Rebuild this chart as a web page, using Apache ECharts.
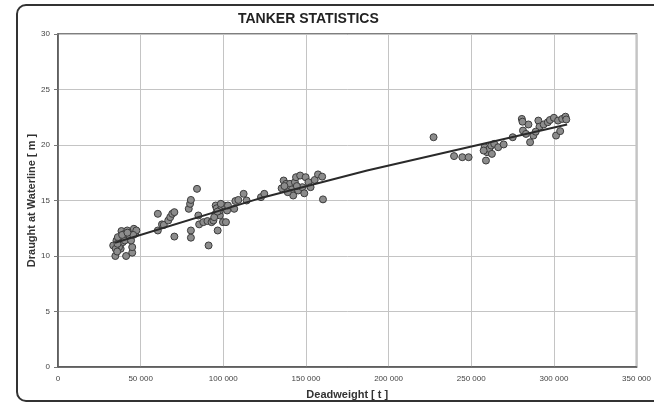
<!DOCTYPE html>
<html>
<head>
<meta charset="utf-8">
<script src="https://cdn.jsdelivr.net/npm/echarts@6/dist/echarts.min.js"></script>
<style>html,body{margin:0;padding:0;background:#fff;}#c{width:654px;height:405px;}</style>
</head>
<body>
<div id="c"></div>
<script>
const title = 'TANKER STATISTICS';
const xName = 'Deadweight [ t ]';
const yName = 'Draught at Waterline [ m ]';
const xTicks = [0, 50000, 100000, 150000, 200000, 250000, 300000, 350000];
const yTicks = [0, 5, 10, 15, 20, 25, 30];

const deadweight = [
  34700,41200,44900,44900,33400,35400,36200,37900,39200,38400,40400,41900,43400,44900,45900,46700,42900,36900,34900,40400,44200,47400,45500,36000,38800,42000,35800,
  60400,60400,62900,64000,66700,67900,69100,70400,70400,79100,79900,80400,80400,80400,84100,84900,85400,87900,90400,91100,92900,94000,95400,95400,96000,96600,97900,97900,99000,99800,101600,100400,102300,102800,106600,107300,109100,112300,114100,122800,124800,94500,96500,98500,
  135300,136500,138000,140300,141500,142300,143300,144000,145300,146500,147800,149000,149800,151500,152800,155300,157300,159800,160300,139000,144500,137000,
  227200,239600,244600,248400,258900,258100,259600,260900,262100,262500,263900,266300,269600,275100,280600,281300,283100,284600,285600,287600,290600,291300,293800,296300,297600,300000,301300,302500,303800,305000,307000,307500,281000,289000,257500
];
const draught = [
  10.0,10.0,10.3,10.8,10.95,11.4,11.7,10.65,11.25,12.25,12.0,12.3,11.85,12.15,12.45,12.0,11.55,10.8,10.65,11.4,11.4,12.3,11.9,11.1,11.9,12.1,10.4,
  13.8,12.3,12.85,12.8,13.2,13.5,13.8,13.95,11.75,14.25,14.7,15.05,12.3,11.65,16.05,13.65,12.85,13.05,13.15,10.95,13.05,13.2,13.8,14.55,14.3,12.3,13.65,14.1,14.4,13.05,13.05,14.55,14.1,14.55,14.25,14.95,15.05,15.6,15.0,15.3,15.6,13.5,14.0,14.7,
  16.1,16.8,16.5,16.5,16.0,15.45,16.65,17.1,15.9,17.25,16.2,15.65,17.1,16.65,16.2,16.85,17.35,17.15,15.1,15.75,16.3,16.3,
  20.7,19.0,18.9,18.9,18.6,19.8,19.35,19.65,19.95,19.2,20.1,19.8,20.05,20.7,22.35,21.3,21.0,21.85,20.25,20.85,22.2,21.65,21.85,22.05,22.25,22.45,20.85,22.2,21.25,22.35,22.55,22.3,22.1,21.2,19.5
];
const trendX = [34500, 121000, 187000, 308000];
const trendY = [11.2, 15.15, 17.7, 21.85];

const fmt = v => {
  const s = String(v);
  return s.length > 3 ? s.slice(0, s.length - 3) + ' ' + s.slice(-3) : s;
};

const chart = echarts.init(document.getElementById('c'), null, {renderer: 'canvas'});
chart.setOption({
  backgroundColor: '#ffffff',
  animation: false,
  title: {
    text: title, left: 233, top: 7,
    textStyle: {fontFamily: 'Liberation Sans, Arial, sans-serif', fontSize: 14, fontWeight: 'bold', color: '#222'}
  },
  graphic: [{
    type: 'rect', silent: true,
    shape: {x: 17, y: 5, width: 660, height: 396, r: 9},
    style: {fill: 'none', stroke: '#333', lineWidth: 2}
  }],
  grid: {left: 58, right: 12, top: 34, bottom: 38, show: true, borderColor: '#555', borderWidth: 1.5, backgroundColor: 'transparent'},
  xAxis: {
    type: 'value', min: xTicks[0], max: xTicks[xTicks.length - 1], interval: xTicks[1] - xTicks[0],
    name: xName, nameLocation: 'middle', nameGap: 22, nameMoveOverlap: false,
    nameTextStyle: {fontFamily: 'Liberation Sans, Arial, sans-serif', fontSize: 11, fontWeight: 'bold', color: '#333'},
    axisLine: {lineStyle: {color: '#555', width: 1.5}},
    axisTick: {show: false},
    axisLabel: {formatter: fmt, fontFamily: 'Liberation Sans, Arial, sans-serif', fontSize: 8, color: '#444', margin: 8},
    splitLine: {lineStyle: {color: '#c4c4c4', width: 1}}
  },
  yAxis: {
    type: 'value', min: yTicks[0], max: yTicks[yTicks.length - 1], interval: yTicks[1] - yTicks[0],
    name: yName, nameLocation: 'middle', nameGap: 21, nameMoveOverlap: false,
    nameTextStyle: {fontFamily: 'Liberation Sans, Arial, sans-serif', fontSize: 11, fontWeight: 'bold', color: '#333'},
    axisLine: {lineStyle: {color: '#555', width: 1.5}},
    axisTick: {show: true, length: 4, lineStyle: {color: '#777'}},
    axisLabel: {fontFamily: 'Liberation Sans, Arial, sans-serif', fontSize: 8, color: '#444', margin: 8},
    splitLine: {lineStyle: {color: '#c4c4c4', width: 1}}
  },
  series: [
    {
      type: 'scatter', symbol: 'circle', symbolSize: 7,
      data: deadweight.map((x, i) => [x, draught[i]]),
      itemStyle: {color: '#8c8c8c', borderColor: '#3c3c3c', borderWidth: 1, opacity: 1},
      z: 3
    },
    {
      type: 'line', smooth: false, symbol: 'none',
      data: trendX.map((x, i) => [x, trendY[i]]),
      lineStyle: {color: '#2a2a2a', width: 2},
      z: 4
    }
  ]
});
</script>
</body>
</html>
